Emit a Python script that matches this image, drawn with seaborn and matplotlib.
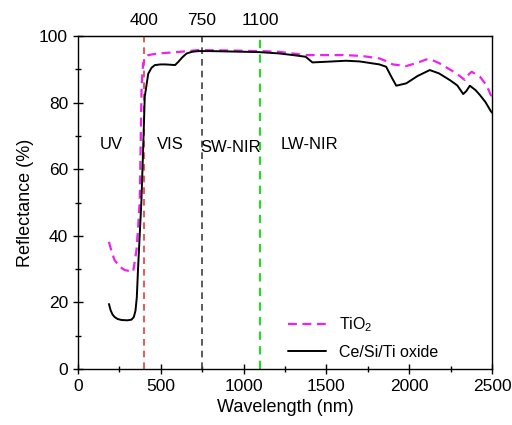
import matplotlib
matplotlib.use('Agg')

import matplotlib.pyplot as plt
import seaborn as sns
from matplotlib.ticker import MultipleLocator

# Ce/Si/Ti oxide (black solid)
wl_ce = [188, 198, 210, 222, 240, 263, 300, 324, 338, 348, 356, 364, 374, 384, 394, 404, 425, 445, 465, 500,
         526, 560, 587, 607, 630, 657, 690, 728, 800, 900, 1000, 1092, 1214, 1300, 1375,
         1416, 1500, 1618, 1700, 1820, 1861, 1890, 1922, 1982, 2050, 2124, 2180, 2245,
         2290, 2326, 2345, 2366, 2400, 2427, 2460, 2492, 2500]
refl_ce = [19.5, 17.6, 16.3, 15.6, 15.0, 14.7, 14.6, 14.8, 15.6, 17.5, 21.5, 30.7, 40.7, 50.7, 65.8, 81.8, 88.7, 90.5, 91.3, 91.5,
           91.5, 91.4, 91.3, 92.3, 93.6, 94.8, 95.3, 95.5, 95.5, 95.4, 95.3, 95.2, 94.8, 94.3, 93.8,
           92.1, 92.3, 92.6, 92.4, 91.5, 90.8, 88.0, 85.1, 85.8, 88.0, 89.8, 88.8, 86.8,
           85.2, 82.6, 83.5, 85.1, 83.8, 82.3, 80.2, 77.5, 77.0]

# TiO2 (magenta dashed)
wl_ti = [188, 205, 222, 250, 283, 334, 354, 364, 374, 380, 385, 394, 410, 425, 485, 600, 728,
         900, 1092, 1214, 1375, 1500, 1618, 1720, 1820, 1860, 1901, 1982, 2050, 2103,
         2140, 2184, 2285, 2336, 2360, 2377, 2427, 2470, 2492, 2500]
refl_ti = [38.2, 35.0, 32.7, 30.8, 29.7, 29.2, 35.7, 42.7, 50.7, 70.0, 85.0, 91.8, 93.6, 94.3, 94.8, 95.2, 95.8,
           95.7, 95.5, 95.3, 94.3, 94.3, 94.3, 94.0, 93.3, 92.5, 91.5, 91.0, 92.0, 93.0,
           92.8, 91.8, 88.8, 86.8, 88.5, 89.3, 87.8, 85.0, 82.3, 82.0]

# region boundaries and labels
boundaries = [400, 750, 1100]
boundary_colors = ['#e0403a', '#404040', '#22dd22']
region_names = ['UV', 'VIS', 'SW-NIR', 'LW-NIR']
region_x = [200, 560, 920, 1395]
region_y = [67.5, 67.5, 66.5, 67.5]

sns.set_style('ticks')
plt.rcParams['font.family'] = ['Liberation Sans', 'DejaVu Sans']
plt.rcParams['mathtext.fontset'] = 'custom'
plt.rcParams['mathtext.rm'] = 'Liberation Sans'
plt.rcParams['mathtext.it'] = 'Liberation Sans'
plt.rcParams['axes.edgecolor'] = 'black'
plt.rcParams['xtick.color'] = 'black'
plt.rcParams['ytick.color'] = 'black'
plt.rcParams['text.color'] = 'black'
plt.rcParams['axes.labelcolor'] = 'black'

fig, ax = plt.subplots(figsize=(5.12, 4.25), dpi=100)
fig.subplots_adjust(left=0.152, right=0.961, bottom=0.132, top=0.915)

for b, c in zip(boundaries, boundary_colors):
    ax.axvline(b, color=c, ls=(0, (4, 3)), lw=1.5 if b == 1100 else 1.2, zorder=1)

sns.lineplot(x=wl_ti, y=refl_ti, ax=ax, color='#ee22ee', lw=1.6,
             linestyle=(0, (4, 2.5)), label='TiO$_2$', zorder=3)
sns.lineplot(x=wl_ce, y=refl_ce, ax=ax, color='black', lw=1.4,
             label='Ce/Si/Ti oxide', zorder=4)

for name, xx, yy in zip(region_names, region_x, region_y):
    ax.text(xx, yy, name, fontsize=12, ha='center', va='center')

ax.set_xlim(0, 2500)
ax.set_ylim(0, 100)
ax.xaxis.set_major_locator(MultipleLocator(500))
ax.xaxis.set_minor_locator(MultipleLocator(250))
ax.yaxis.set_major_locator(MultipleLocator(20))
ax.yaxis.set_minor_locator(MultipleLocator(10))
ax.tick_params(which='major', direction='inout', length=7, width=1, labelsize=12.5)
ax.tick_params(which='minor', direction='inout', length=4, width=1)
ax.set_xlabel('Wavelength (nm)', fontsize=13)
ax.set_ylabel('Reflectance (%)', fontsize=13)
for sp in ax.spines.values():
    sp.set_visible(True)
    sp.set_linewidth(1)

top = ax.secondary_xaxis('top')
top.set_xticks(boundaries)
top.tick_params(length=0, labelsize=12.5, pad=6)

ax.legend(loc='lower right', bbox_to_anchor=(0.905, -0.015), frameon=False, fontsize=11.5,
          handlelength=2.4, labelspacing=0.65)

fig.savefig('out.png', dpi=100)
